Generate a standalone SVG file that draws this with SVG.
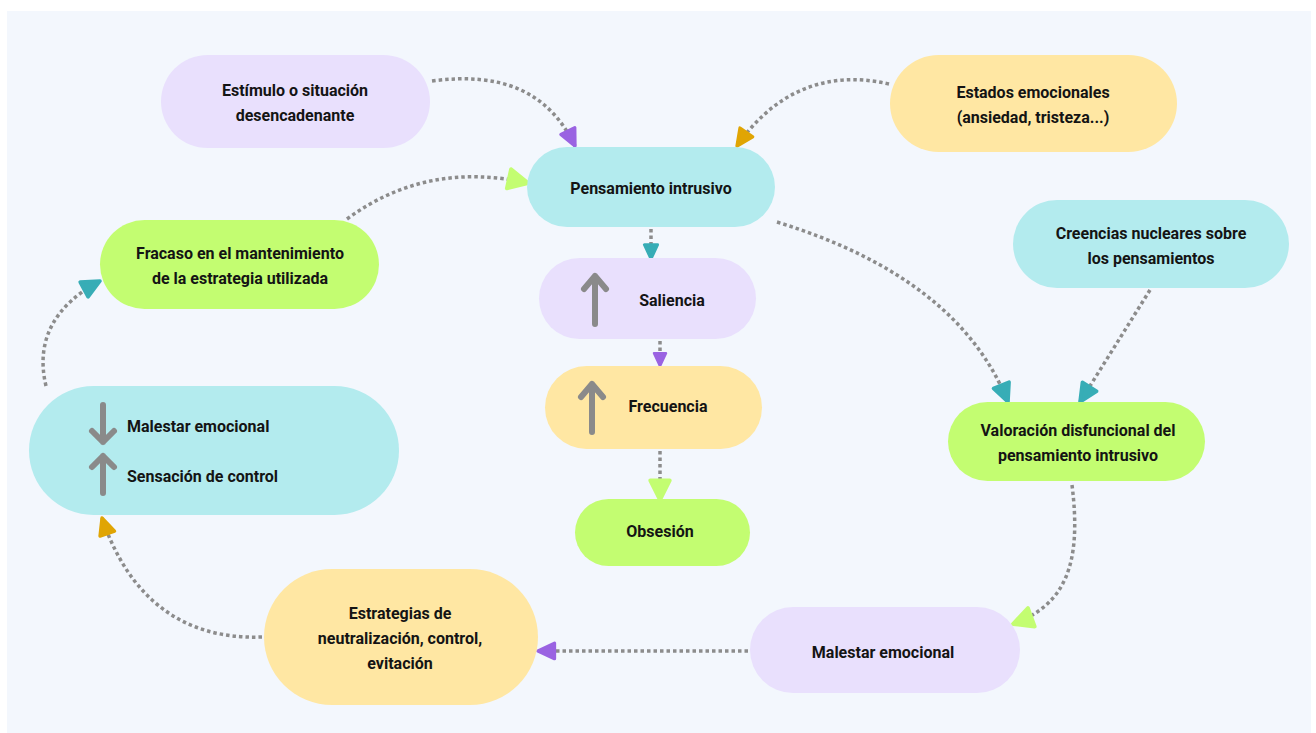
<svg xmlns="http://www.w3.org/2000/svg" width="1316" height="733" viewBox="0 0 1316 733">
<style>
.bg{fill:#f3f7fd}
.purple{fill:#e9e0fd}
.yellow{fill:#ffe7a3}
.teal{fill:#b3ebee}
.green{fill:#c3fd71}
.t{font-family:Roboto,"Liberation Sans",sans-serif;font-weight:700;font-size:16px;fill:#141414;text-anchor:middle}
.tl{text-anchor:start}
.c{fill:none;stroke:#8c8c8c;stroke-width:3.5;stroke-dasharray:3.5 3}
.ga{fill:none;stroke:#8a8a8a;stroke-width:6;stroke-linecap:round;stroke-linejoin:round}
</style>
<defs>
<marker id="mP" viewBox="0 0 20 20" refX="18" refY="10" markerWidth="22" markerHeight="22" markerUnits="userSpaceOnUse" orient="auto"><path d="M3,3 L18,10 L3,17 Z" fill="#9a63e2" stroke="#9a63e2" stroke-width="3" stroke-linejoin="round"/></marker>
<marker id="mO" viewBox="0 0 20 20" refX="18" refY="10" markerWidth="22" markerHeight="22" markerUnits="userSpaceOnUse" orient="auto"><path d="M3,3 L18,10 L3,17 Z" fill="#e0a504" stroke="#e0a504" stroke-width="3" stroke-linejoin="round"/></marker>
<marker id="mG" viewBox="0 0 20 20" refX="18" refY="10" markerWidth="26" markerHeight="26" markerUnits="userSpaceOnUse" orient="auto"><path d="M3,2.5 L18,10 L3,17.5 Z" fill="#c3fd71" stroke="#c3fd71" stroke-width="3" stroke-linejoin="round"/></marker>
<marker id="mT" viewBox="0 0 20 20" refX="18" refY="10" markerWidth="24" markerHeight="24" markerUnits="userSpaceOnUse" orient="auto"><path d="M3,3 L18,10 L3,17 Z" fill="#37adb6" stroke="#37adb6" stroke-width="3" stroke-linejoin="round"/></marker>
<marker id="mTs" viewBox="0 0 20 20" refX="18" refY="10" markerWidth="19" markerHeight="19" markerUnits="userSpaceOnUse" orient="auto"><path d="M3,3 L18,10 L3,17 Z" fill="#37adb6" stroke="#37adb6" stroke-width="3" stroke-linejoin="round"/></marker>
<marker id="mPs" viewBox="0 0 20 20" refX="18" refY="10" markerWidth="17" markerHeight="17" markerUnits="userSpaceOnUse" orient="auto"><path d="M3,3 L18,10 L3,17 Z" fill="#9a63e2" stroke="#9a63e2" stroke-width="3" stroke-linejoin="round"/></marker>
</defs>
<rect x="0" y="0" width="1316" height="733" fill="#ffffff"/>
<rect class="bg" x="7" y="11" width="1304" height="722"/>

<g id="connectors">
<path class="c" d="M432,81 C500,72 548,90 575,146" marker-end="url(#mP)"/>
<path class="c" d="M889,84 C820,68 770,98 737,146" marker-end="url(#mO)"/>
<path class="c" d="M347,219 C400,180 460,168 528,183" marker-end="url(#mG)"/>
<path class="c" d="M651,229 L651,259" marker-end="url(#mTs)"/>
<path class="c" d="M660,341 L660,366" marker-end="url(#mPs)"/>
<path class="c" d="M660,451 L660,500" marker-end="url(#mG)"/>
<path class="c" d="M777,222 C900,260 975,320 1008,402" marker-end="url(#mT)"/>
<path class="c" d="M1150,290 L1080,402" marker-end="url(#mT)"/>
<path class="c" d="M1072,485 C1082,565 1065,605 1013,624" marker-end="url(#mG)"/>
<path class="c" d="M748,651 L538,651" marker-end="url(#mP)"/>
<path class="c" d="M262,637 C180,640 128,595 102,518" marker-end="url(#mO)"/>
<path class="c" d="M46,386 C35,340 55,305 100,281" marker-end="url(#mT)"/>
</g>

<g id="n-estimulo">
<rect class="purple" x="161" y="55" width="269" height="93" rx="46.5"/>
<text class="t" x="295" y="96">Estímulo o situación</text>
<text class="t" x="295" y="121">desencadenante</text>
</g>
<g id="n-estados">
<rect class="yellow" x="890" y="55" width="287" height="97" rx="48.5"/>
<text class="t" x="1033" y="98">Estados emocionales</text>
<text class="t" x="1033" y="123">(ansiedad, tristeza...)</text>
</g>
<g id="n-pensamiento">
<rect class="teal" x="527" y="147" width="248" height="80" rx="40"/>
<text class="t" x="651" y="194">Pensamiento intrusivo</text>
</g>
<g id="n-fracaso">
<rect class="green" x="100" y="220" width="279" height="89" rx="44.5"/>
<text class="t" x="240" y="259">Fracaso en el mantenimiento</text>
<text class="t" x="240" y="284">de la estrategia utilizada</text>
</g>
<g id="n-creencias">
<rect class="teal" x="1013" y="200" width="276" height="88" rx="44"/>
<text class="t" x="1151" y="239">Creencias nucleares sobre</text>
<text class="t" x="1151" y="264">los pensamientos</text>
</g>
<g id="n-saliencia">
<rect class="purple" x="539" y="258" width="217" height="81" rx="40.5"/>
<path class="ga" d="M595,324 V276 M584,289 L595,276 L606,289"/>
<text class="t" x="672" y="306">Saliencia</text>
</g>
<g id="n-frecuencia">
<rect class="yellow" x="545" y="366" width="217" height="83" rx="41.5"/>
<path class="ga" d="M592,432 V384 M581,397 L592,384 L603,397"/>
<text class="t" x="668" y="412">Frecuencia</text>
</g>
<g id="n-obsesion">
<rect class="green" x="575" y="499" width="175" height="67" rx="33.5"/>
<text class="t" x="660" y="537">Obsesión</text>
</g>
<g id="n-valoracion">
<rect class="green" x="948" y="402" width="257" height="79" rx="39.5"/>
<text class="t" x="1078" y="436">Valoración disfuncional del</text>
<text class="t" x="1078" y="461">pensamiento intrusivo</text>
</g>
<g id="n-control">
<rect class="teal" x="29" y="386" width="370" height="129" rx="64.5"/>
<path class="ga" d="M103,405 V442 M92,431 L103,442 L114,431"/>
<path class="ga" d="M103,493 V456 M92,467 L103,456 L114,467"/>
<text class="t tl" x="127" y="432">Malestar emocional</text>
<text class="t tl" x="127" y="482">Sensación de control</text>
</g>
<g id="n-estrategias">
<rect class="yellow" x="264" y="569" width="274" height="136" rx="68"/>
<text class="t" x="400" y="619">Estrategias de</text>
<text class="t" x="400" y="644">neutralización, control,</text>
<text class="t" x="400" y="669">evitación</text>
</g>
<g id="n-malestar">
<rect class="purple" x="750" y="607" width="270" height="86" rx="43"/>
<text class="t" x="883" y="658">Malestar emocional</text>
</g>
</svg>
